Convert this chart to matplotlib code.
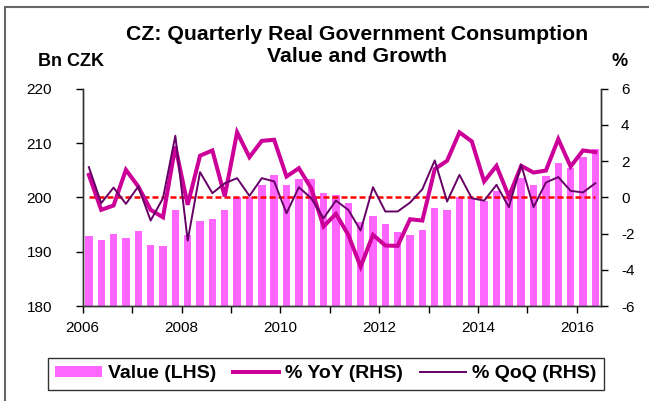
import numpy as np
import matplotlib
matplotlib.use("Agg")
import matplotlib.pyplot as plt
from matplotlib.patches import Patch, Rectangle
from matplotlib.lines import Line2D

plt.rcParams['font.family'] = ['Liberation Sans', 'DejaVu Sans']
plt.rcParams['axes.unicode_minus'] = False

# Quarterly data 2006Q1 - 2016Q2
quarters = [f"{y}Q{q}" for y in range(2006, 2017) for q in range(1, 5)][:42]

value_bn_czk = [192.9, 192.2, 193.3, 192.5, 193.8, 191.3, 191.1, 197.7,
                193.0, 195.7, 196.1, 197.7, 200.1, 200.0, 202.2, 204.1,
                202.2, 203.4, 203.3, 200.8, 200.5, 199.0, 195.4, 196.6,
                195.1, 193.6, 193.1, 194.0, 198.1, 197.6, 200.0, 199.9,
                199.4, 201.1, 200.0, 203.5, 202.3, 204.0, 206.3, 205.4,
                207.4, 208.9]

yoy_pct = [1.24, -0.69, -0.45, 1.52, 0.60, -0.69, -1.10, 2.81,
           -0.41, 2.30, 2.59, 0.05, 3.59, 2.22, 3.12, 3.18,
           1.15, 1.61, 0.50, -1.61, -0.91, -2.07, -3.83, -2.07,
           -2.66, -2.68, -1.21, -1.28, 1.56, 2.02, 3.59, 3.09,
           0.88, 1.74, 0.05, 1.74, 1.37, 1.48, 3.22, 1.70,
           2.59, 2.50]

qoq_pct = [1.67, -0.32, 0.54, -0.36, 0.60, -1.28, -0.05, 3.40,
           -2.39, 1.39, 0.23, 0.78, 1.06, 0.08, 1.06, 0.88,
           -0.88, 0.56, -0.05, -1.15, -0.18, -0.69, -1.83, 0.56,
           -0.78, -0.78, -0.29, 0.45, 2.04, -0.23, 1.24, -0.05,
           -0.18, 0.69, -0.54, 1.80, -0.54, 0.82, 1.12, 0.36,
           0.27, 0.78]

year_labels = [str(y) for y in range(2006, 2017)]

BAR_COLOR = '#FF66FF'
YOY_COLOR = '#CC0099'
QOQ_COLOR = '#660066'

fig = plt.figure(figsize=(6.49, 4.01), dpi=100)
ax = fig.add_axes([0.1274, 0.2369, 0.7994, 0.5419])
ax2 = ax.twinx()

x = np.arange(len(quarters))

# bars on left axis
ax.bar(x, value_bn_czk, width=0.6, color=BAR_COLOR, zorder=1)
ax.set_ylim(180, 220)
ax.set_yticks(np.arange(180, 221, 10))
ax.set_xlim(-0.5, len(quarters) - 0.5)

# growth lines on right axis
ax2.plot(x, np.zeros(len(x)), color='red', lw=1.8, linestyle=(0, (2.4, 1.2)))
ax2.plot(x, yoy_pct, color=YOY_COLOR, lw=2.9, solid_joinstyle='miter')
ax2.plot(x, qoq_pct, color=QOQ_COLOR, lw=1.4)
ax2.set_ylim(-6, 6)
ax2.set_yticks(np.arange(-6, 7, 2))

# year ticks at boundaries, label every 2nd year
year_pos = np.arange(0, 41, 4) - 0.5
ax.set_xticks(year_pos)
ax.set_xticklabels([lab if i % 2 == 0 else '' for i, lab in enumerate(year_labels)])

for a in (ax, ax2):
    a.spines['top'].set_visible(False)
    for s in ('left', 'right', 'bottom'):
        a.spines[s].set_color('#333333')
        a.spines[s].set_linewidth(1.0)

ax.tick_params(axis='y', direction='out', length=5, width=1, labelsize=11, pad=17)
ax.tick_params(axis='x', direction='out', length=5, width=1, labelsize=11, pad=6)
ax2.tick_params(axis='y', direction='out', length=5, width=1, labelsize=11, pad=9)

# titles and axis unit labels
fig.text(357 / 649, 1 - 45 / 401,
         "CZ: Quarterly Real Government Consumption\nValue and Growth",
         ha='center', va='center', fontsize=15.3, fontweight='bold', linespacing=1.2)
fig.text(71 / 649, 1 - 62 / 401, "Bn CZK", ha='center', va='center',
         fontsize=13, fontweight='bold')
fig.text(620 / 649, 1 - 62 / 401, "%", ha='center', va='center',
         fontsize=13, fontweight='bold')

# legend
handles = [Patch(facecolor=BAR_COLOR, edgecolor='none'),
           Line2D([], [], color=YOY_COLOR, lw=2.9),
           Line2D([], [], color=QOQ_COLOR, lw=1.4)]
labels = ["Value (LHS)", "% YoY (RHS)", "% QoQ (RHS)"]
leg = fig.legend(handles, labels, loc='center', ncol=3,
                 bbox_to_anchor=(326 / 649, 1 - 374 / 401),
                 prop={'weight': 'bold', 'size': 14},
                 frameon=True, fancybox=False, edgecolor='black',
                 handlelength=2.4, handleheight=0.45, handletextpad=0.3,
                 columnspacing=0.85, borderpad=0.4, borderaxespad=0)
leg.get_frame().set_linewidth(1.0)

# outer chart border (left and top edges visible)
fig.patches.append(Rectangle((5 / 649, -0.1), 1.2, 1.1 - 7 / 401, fill=False,
                             edgecolor='#666666', lw=1.5,
                             transform=fig.transFigure, figure=fig))

fig.savefig("out.png", dpi=100)
